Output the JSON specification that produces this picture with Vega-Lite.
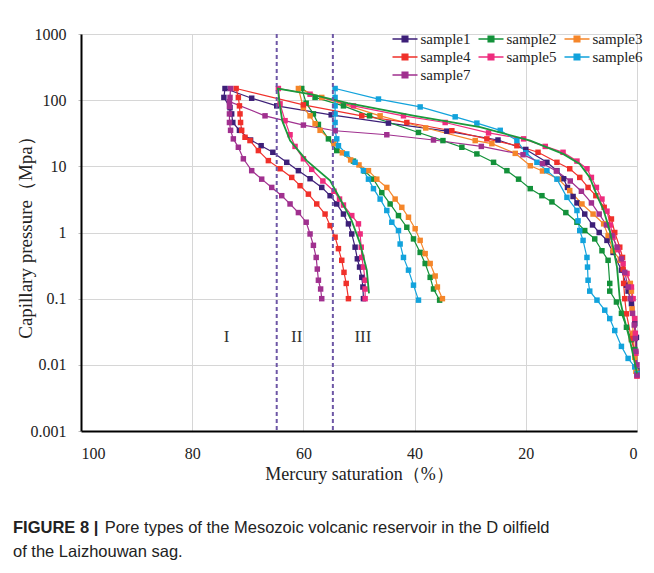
{
  "$schema": "https://vega.github.io/schema/vega-lite/v6.json",
  "width": 556,
  "height": 397,
  "autosize": "none",
  "padding": {"left": 81, "top": 34, "right": 17, "bottom": 142},
  "background": "white",
  "config": {"view": {"stroke": null}, "font": "Liberation Serif"},
  "title": {
    "text": "FIGURE 8 |",
    "subtitle": ["\u200b\u00a0\u00a0\u00a0\u00a0\u00a0\u00a0\u00a0\u00a0\u00a0\u00a0\u00a0\u00a0\u00a0\u00a0\u00a0\u00a0\u00a0\u00a0\u00a0\u00a0Pore types of the Mesozoic volcanic reservoir in the D oilfield", "of the Laizhouwan sag."],
    "orient": "bottom",
    "anchor": "start",
    "frame": "group",
    "font": "Liberation Sans",
    "fontSize": 16.5,
    "fontWeight": "bold",
    "color": "#222222",
    "subtitleFont": "Liberation Sans",
    "subtitleFontSize": 16.5,
    "subtitleColor": "#222222",
    "subtitleLineHeight": 24,
    "subtitlePadding": -16.5,
    "dx": -68,
    "offset": 37
  },
  "datasets": {
    "pts": [
      {"s":"sample1","i":1,"x":0,"y":0.0083},{"s":"sample1","i":2,"x":0.1,"y":0.026},{"s":"sample1","i":3,"x":0.4,"y":0.042},{"s":"sample1","i":4,"x":1,"y":0.084},{"s":"sample1","i":5,"x":1.6,"y":0.13},{"s":"sample1","i":6,"x":1.9,"y":0.16},{"s":"sample1","i":7,"x":2.8,"y":0.27},{"s":"sample1","i":8,"x":4.3,"y":0.5},{"s":"sample1","i":9,"x":5.4,"y":0.76},{"s":"sample1","i":10,"x":6.8,"y":1.0},{"s":"sample1","i":11,"x":8,"y":1.3},{"s":"sample1","i":12,"x":9.4,"y":1.9},{"s":"sample1","i":13,"x":10.8,"y":2.8},{"s":"sample1","i":14,"x":11.5,"y":3.5},{"s":"sample1","i":15,"x":12.5,"y":4.8},{"s":"sample1","i":16,"x":13.2,"y":6.5},{"s":"sample1","i":17,"x":14.4,"y":8.6},{"s":"sample1","i":18,"x":16.2,"y":11.5},{"s":"sample1","i":19,"x":20,"y":18},{"s":"sample1","i":20,"x":25,"y":25},{"s":"sample1","i":21,"x":34.2,"y":34},{"s":"sample1","i":22,"x":44.7,"y":45},{"s":"sample1","i":23,"x":55,"y":60},{"s":"sample1","i":24,"x":64.8,"y":82},{"s":"sample1","i":25,"x":69.3,"y":107},{"s":"sample1","i":26,"x":74.1,"y":150},{"s":"sample1","i":27,"x":74.3,"y":110},{"s":"sample1","i":28,"x":73.2,"y":77},{"s":"sample1","i":29,"x":72.9,"y":62},{"s":"sample1","i":30,"x":72.7,"y":46},{"s":"sample1","i":31,"x":71.5,"y":35},{"s":"sample1","i":32,"x":69.5,"y":25},{"s":"sample1","i":33,"x":67.6,"y":20.5},{"s":"sample1","i":34,"x":65.5,"y":16.3},{"s":"sample1","i":35,"x":63,"y":11.5},{"s":"sample1","i":36,"x":60.9,"y":8.6},{"s":"sample1","i":37,"x":58.8,"y":6.5},{"s":"sample1","i":38,"x":56.7,"y":4.8},{"s":"sample1","i":39,"x":55.2,"y":3.6},{"s":"sample1","i":40,"x":54,"y":2.7},{"s":"sample1","i":41,"x":52.8,"y":1.9},{"s":"sample1","i":42,"x":51.9,"y":1.35},{"s":"sample1","i":43,"x":51.3,"y":0.95},{"s":"sample1","i":44,"x":50.7,"y":0.6},{"s":"sample1","i":45,"x":50.3,"y":0.4},{"s":"sample1","i":46,"x":49.9,"y":0.3},{"s":"sample1","i":47,"x":49.5,"y":0.21},{"s":"sample1","i":48,"x":49.3,"y":0.15},{"s":"sample1","i":49,"x":49.2,"y":0.1},
      {"s":"sample2","i":1,"x":0,"y":0.0074},{"s":"sample2","i":2,"x":0.4,"y":0.017},{"s":"sample2","i":3,"x":1,"y":0.024},{"s":"sample2","i":4,"x":1.9,"y":0.037},{"s":"sample2","i":5,"x":2.8,"y":0.06},{"s":"sample2","i":6,"x":3.7,"y":0.089},{"s":"sample2","i":7,"x":4.9,"y":0.13},{"s":"sample2","i":8,"x":4.9,"y":0.17},{"s":"sample2","i":9,"x":5.2,"y":0.38},{"s":"sample2","i":10,"x":6.3,"y":0.53},{"s":"sample2","i":11,"x":7.6,"y":0.8},{"s":"sample2","i":12,"x":9.4,"y":1.07},{"s":"sample2","i":13,"x":10.8,"y":1.43},{"s":"sample2","i":14,"x":12.8,"y":2.0},{"s":"sample2","i":15,"x":15.3,"y":2.9},{"s":"sample2","i":16,"x":17.1,"y":3.6},{"s":"sample2","i":17,"x":19.2,"y":4.6},{"s":"sample2","i":18,"x":21.3,"y":6.4},{"s":"sample2","i":19,"x":23.4,"y":8.6},{"s":"sample2","i":20,"x":25.8,"y":11.5},{"s":"sample2","i":21,"x":28.8,"y":15.4},{"s":"sample2","i":22,"x":31.5,"y":19.4},{"s":"sample2","i":23,"x":34.9,"y":24.5},{"s":"sample2","i":24,"x":39.3,"y":32.5},{"s":"sample2","i":25,"x":48.1,"y":58},{"s":"sample2","i":26,"x":52.8,"y":82},{"s":"sample2","i":27,"x":57.9,"y":110},{"s":"sample2","i":28,"x":60.3,"y":150},{"s":"sample2","i":29,"x":59.5,"y":90},{"s":"sample2","i":30,"x":58.2,"y":62},{"s":"sample2","i":31,"x":57.3,"y":43},{"s":"sample2","i":32,"x":55.5,"y":26},{"s":"sample2","i":33,"x":54,"y":17.3},{"s":"sample2","i":34,"x":51,"y":12},{"s":"sample2","i":35,"x":49,"y":8.5},{"s":"sample2","i":36,"x":47.4,"y":6.4},{"s":"sample2","i":37,"x":45.9,"y":4},{"s":"sample2","i":38,"x":44.4,"y":2.7},{"s":"sample2","i":39,"x":42.9,"y":1.8},{"s":"sample2","i":40,"x":41.4,"y":1.2},{"s":"sample2","i":41,"x":40.2,"y":0.8},{"s":"sample2","i":42,"x":39,"y":0.5},{"s":"sample2","i":43,"x":38.1,"y":0.34},{"s":"sample2","i":44,"x":37.2,"y":0.21},{"s":"sample2","i":45,"x":36.6,"y":0.14},{"s":"sample2","i":46,"x":35.5,"y":0.095},
      {"s":"sample3","i":1,"x":0.2,"y":0.008},{"s":"sample3","i":2,"x":0.4,"y":0.013},{"s":"sample3","i":3,"x":0.7,"y":0.03},{"s":"sample3","i":4,"x":0.9,"y":0.07},{"s":"sample3","i":5,"x":1,"y":0.13},{"s":"sample3","i":6,"x":1.2,"y":0.17},{"s":"sample3","i":7,"x":1.9,"y":0.24},{"s":"sample3","i":8,"x":3,"y":0.38},{"s":"sample3","i":9,"x":4.3,"y":0.53},{"s":"sample3","i":10,"x":5.2,"y":0.9},{"s":"sample3","i":11,"x":6,"y":1.35},{"s":"sample3","i":12,"x":7.9,"y":1.9},{"s":"sample3","i":13,"x":9.9,"y":2.7},{"s":"sample3","i":14,"x":12.1,"y":4.3},{"s":"sample3","i":15,"x":14.1,"y":6.4},{"s":"sample3","i":16,"x":17,"y":8.5},{"s":"sample3","i":17,"x":19.2,"y":10.2},{"s":"sample3","i":18,"x":21.9,"y":15.7},{"s":"sample3","i":19,"x":26.1,"y":22},{"s":"sample3","i":20,"x":29.1,"y":24.5},{"s":"sample3","i":21,"x":38,"y":38},{"s":"sample3","i":22,"x":46.2,"y":58},{"s":"sample3","i":23,"x":56.7,"y":110},{"s":"sample3","i":24,"x":60.9,"y":150},{"s":"sample3","i":25,"x":60,"y":77},{"s":"sample3","i":26,"x":58.8,"y":58},{"s":"sample3","i":27,"x":57.9,"y":44},{"s":"sample3","i":28,"x":57,"y":35},{"s":"sample3","i":29,"x":54.5,"y":22},{"s":"sample3","i":30,"x":53,"y":16},{"s":"sample3","i":31,"x":51.5,"y":12.5},{"s":"sample3","i":32,"x":50,"y":10.5},{"s":"sample3","i":33,"x":48.3,"y":8.6},{"s":"sample3","i":34,"x":46.8,"y":6.4},{"s":"sample3","i":35,"x":45,"y":4.8},{"s":"sample3","i":36,"x":43.5,"y":3.2},{"s":"sample3","i":37,"x":42.3,"y":2.4},{"s":"sample3","i":38,"x":41.1,"y":1.7},{"s":"sample3","i":39,"x":39.9,"y":1.14},{"s":"sample3","i":40,"x":39,"y":0.76},{"s":"sample3","i":41,"x":38.1,"y":0.48},{"s":"sample3","i":42,"x":37.2,"y":0.34},{"s":"sample3","i":43,"x":36.3,"y":0.22},{"s":"sample3","i":44,"x":35.9,"y":0.15},{"s":"sample3","i":45,"x":35,"y":0.1},
      {"s":"sample4","i":1,"x":0,"y":0.0068},{"s":"sample4","i":2,"x":0.4,"y":0.015},{"s":"sample4","i":3,"x":1,"y":0.025},{"s":"sample4","i":4,"x":1.9,"y":0.059},{"s":"sample4","i":5,"x":2.2,"y":0.1},{"s":"sample4","i":6,"x":2.4,"y":0.17},{"s":"sample4","i":7,"x":2.5,"y":0.28},{"s":"sample4","i":8,"x":2.6,"y":0.42},{"s":"sample4","i":9,"x":3.1,"y":0.6},{"s":"sample4","i":10,"x":4,"y":1.0},{"s":"sample4","i":11,"x":4.6,"y":1.6},{"s":"sample4","i":12,"x":5.9,"y":2.4},{"s":"sample4","i":13,"x":7.4,"y":3.6},{"s":"sample4","i":14,"x":8.8,"y":4.8},{"s":"sample4","i":15,"x":10.3,"y":6.8},{"s":"sample4","i":16,"x":12.1,"y":9.2},{"s":"sample4","i":17,"x":14.4,"y":11.5},{"s":"sample4","i":18,"x":17.8,"y":16.3},{"s":"sample4","i":19,"x":21.6,"y":20.5},{"s":"sample4","i":20,"x":27,"y":26},{"s":"sample4","i":21,"x":33.3,"y":34.5},{"s":"sample4","i":22,"x":41.4,"y":46},{"s":"sample4","i":23,"x":49.5,"y":58},{"s":"sample4","i":24,"x":60,"y":85},{"s":"sample4","i":25,"x":72.1,"y":150},{"s":"sample4","i":26,"x":71.7,"y":110},{"s":"sample4","i":27,"x":71.5,"y":82},{"s":"sample4","i":28,"x":71.4,"y":62},{"s":"sample4","i":29,"x":71.3,"y":46},{"s":"sample4","i":30,"x":71.1,"y":35},{"s":"sample4","i":31,"x":70.5,"y":27.5},{"s":"sample4","i":32,"x":69.6,"y":24.5},{"s":"sample4","i":33,"x":68.1,"y":17.3},{"s":"sample4","i":34,"x":66.3,"y":12.2},{"s":"sample4","i":35,"x":64.2,"y":9.2},{"s":"sample4","i":36,"x":62.1,"y":6.8},{"s":"sample4","i":37,"x":60.6,"y":5.1},{"s":"sample4","i":38,"x":59.1,"y":3.8},{"s":"sample4","i":39,"x":57.6,"y":2.7},{"s":"sample4","i":40,"x":56.1,"y":1.9},{"s":"sample4","i":41,"x":55.2,"y":1.27},{"s":"sample4","i":42,"x":54.3,"y":0.85},{"s":"sample4","i":43,"x":53.7,"y":0.57},{"s":"sample4","i":44,"x":53.1,"y":0.38},{"s":"sample4","i":45,"x":52.7,"y":0.25},{"s":"sample4","i":46,"x":52.3,"y":0.17},{"s":"sample4","i":47,"x":51.9,"y":0.1},
      {"s":"sample5","i":1,"x":0,"y":0.0068},{"s":"sample5","i":2,"x":0.2,"y":0.015},{"s":"sample5","i":3,"x":0.3,"y":0.03},{"s":"sample5","i":4,"x":0.4,"y":0.05},{"s":"sample5","i":5,"x":0.7,"y":0.1},{"s":"sample5","i":6,"x":1,"y":0.15},{"s":"sample5","i":7,"x":1.8,"y":0.24},{"s":"sample5","i":8,"x":2.5,"y":0.34},{"s":"sample5","i":9,"x":3.4,"y":0.55},{"s":"sample5","i":10,"x":4.3,"y":0.85},{"s":"sample5","i":11,"x":4.8,"y":1.3},{"s":"sample5","i":12,"x":5.4,"y":2.1},{"s":"sample5","i":13,"x":6.3,"y":3.2},{"s":"sample5","i":14,"x":7.3,"y":4.8},{"s":"sample5","i":15,"x":8.2,"y":6.8},{"s":"sample5","i":16,"x":9,"y":9.2},{"s":"sample5","i":17,"x":10.8,"y":12},{"s":"sample5","i":18,"x":13.3,"y":16.3},{"s":"sample5","i":19,"x":16.5,"y":20},{"s":"sample5","i":20,"x":20.4,"y":26},{"s":"sample5","i":21,"x":26.7,"y":32},{"s":"sample5","i":22,"x":34.5,"y":46},{"s":"sample5","i":23,"x":42,"y":58},{"s":"sample5","i":24,"x":51,"y":82},{"s":"sample5","i":25,"x":58.8,"y":123},{"s":"sample5","i":26,"x":64.5,"y":150},{"s":"sample5","i":27,"x":64.2,"y":88},{"s":"sample5","i":28,"x":63.3,"y":49},{"s":"sample5","i":29,"x":62.4,"y":30},{"s":"sample5","i":30,"x":61.5,"y":20},{"s":"sample5","i":31,"x":60,"y":13},{"s":"sample5","i":32,"x":58.5,"y":9},{"s":"sample5","i":33,"x":56.5,"y":6},{"s":"sample5","i":34,"x":54.5,"y":4.2},{"s":"sample5","i":35,"x":53.5,"y":3.2},{"s":"sample5","i":36,"x":52.8,"y":2.6},{"s":"sample5","i":37,"x":51.3,"y":1.8},{"s":"sample5","i":38,"x":50.1,"y":1.35},{"s":"sample5","i":39,"x":49.8,"y":0.95},{"s":"sample5","i":40,"x":49.6,"y":0.6},{"s":"sample5","i":41,"x":49.5,"y":0.42},{"s":"sample5","i":42,"x":49.2,"y":0.3},{"s":"sample5","i":43,"x":48.9,"y":0.19},{"s":"sample5","i":44,"x":48.9,"y":0.14},{"s":"sample5","i":45,"x":48.9,"y":0.1},
      {"s":"sample6","i":1,"x":0,"y":0.0074},{"s":"sample6","i":2,"x":0.4,"y":0.0093},{"s":"sample6","i":3,"x":1.6,"y":0.0125},{"s":"sample6","i":4,"x":2.8,"y":0.019},{"s":"sample6","i":5,"x":4,"y":0.033},{"s":"sample6","i":6,"x":4.9,"y":0.05},{"s":"sample6","i":7,"x":5.8,"y":0.067},{"s":"sample6","i":8,"x":7.2,"y":0.095},{"s":"sample6","i":9,"x":8.5,"y":0.13},{"s":"sample6","i":10,"x":8.8,"y":0.19},{"s":"sample6","i":11,"x":8.9,"y":0.3},{"s":"sample6","i":12,"x":9,"y":0.42},{"s":"sample6","i":13,"x":9.7,"y":0.76},{"s":"sample6","i":14,"x":10.3,"y":1.07},{"s":"sample6","i":15,"x":10.6,"y":1.5},{"s":"sample6","i":16,"x":10.8,"y":2.15},{"s":"sample6","i":17,"x":12.6,"y":3.4},{"s":"sample6","i":18,"x":14.4,"y":6.4},{"s":"sample6","i":19,"x":16.2,"y":8.6},{"s":"sample6","i":20,"x":18,"y":11.5},{"s":"sample6","i":21,"x":20,"y":16},{"s":"sample6","i":22,"x":21.6,"y":24.5},{"s":"sample6","i":23,"x":24.6,"y":35},{"s":"sample6","i":24,"x":28.8,"y":45},{"s":"sample6","i":25,"x":32.7,"y":56},{"s":"sample6","i":26,"x":39,"y":79},{"s":"sample6","i":27,"x":46.5,"y":104},{"s":"sample6","i":28,"x":54.3,"y":150},{"s":"sample6","i":29,"x":54.3,"y":110},{"s":"sample6","i":30,"x":54.3,"y":82},{"s":"sample6","i":31,"x":54.3,"y":62},{"s":"sample6","i":32,"x":54.3,"y":46},{"s":"sample6","i":33,"x":54.3,"y":35},{"s":"sample6","i":34,"x":54,"y":26},{"s":"sample6","i":35,"x":53.7,"y":20.5},{"s":"sample6","i":36,"x":52.2,"y":15.4},{"s":"sample6","i":37,"x":50.7,"y":11.5},{"s":"sample6","i":38,"x":49.2,"y":8.6},{"s":"sample6","i":39,"x":48.3,"y":6.4},{"s":"sample6","i":40,"x":47.4,"y":4.6},{"s":"sample6","i":41,"x":46.2,"y":3.2},{"s":"sample6","i":42,"x":45,"y":2.15},{"s":"sample6","i":43,"x":44.1,"y":1.43},{"s":"sample6","i":44,"x":42.9,"y":1.07},{"s":"sample6","i":45,"x":42.6,"y":0.67},{"s":"sample6","i":46,"x":42,"y":0.42},{"s":"sample6","i":47,"x":41.1,"y":0.27},{"s":"sample6","i":48,"x":40.2,"y":0.16},{"s":"sample6","i":49,"x":39.3,"y":0.095},
      {"s":"sample7","i":1,"x":0,"y":0.007},{"s":"sample7","i":2,"x":0,"y":0.01},{"s":"sample7","i":3,"x":0.2,"y":0.016},{"s":"sample7","i":4,"x":0.3,"y":0.025},{"s":"sample7","i":5,"x":0.5,"y":0.04},{"s":"sample7","i":6,"x":0.8,"y":0.06},{"s":"sample7","i":7,"x":1.2,"y":0.1},{"s":"sample7","i":8,"x":1.6,"y":0.15},{"s":"sample7","i":9,"x":2.2,"y":0.25},{"s":"sample7","i":10,"x":2.8,"y":0.4},{"s":"sample7","i":11,"x":3.6,"y":0.6},{"s":"sample7","i":12,"x":4.5,"y":0.9},{"s":"sample7","i":13,"x":5.5,"y":1.3},{"s":"sample7","i":14,"x":6.8,"y":1.9},{"s":"sample7","i":15,"x":8.2,"y":2.8},{"s":"sample7","i":16,"x":10,"y":4.2},{"s":"sample7","i":17,"x":12,"y":6},{"s":"sample7","i":18,"x":14.5,"y":8.5},{"s":"sample7","i":19,"x":17,"y":11},{"s":"sample7","i":20,"x":20.5,"y":15},{"s":"sample7","i":21,"x":28,"y":20},{"s":"sample7","i":22,"x":36.6,"y":25},{"s":"sample7","i":23,"x":45,"y":30},{"s":"sample7","i":24,"x":54.3,"y":34.5},{"s":"sample7","i":25,"x":60,"y":42},{"s":"sample7","i":26,"x":66.9,"y":58},{"s":"sample7","i":27,"x":73.3,"y":95},{"s":"sample7","i":28,"x":73.1,"y":150},{"s":"sample7","i":29,"x":73.2,"y":110},{"s":"sample7","i":30,"x":73.3,"y":80},{"s":"sample7","i":31,"x":73.3,"y":62},{"s":"sample7","i":32,"x":73.3,"y":46},{"s":"sample7","i":33,"x":73.1,"y":35},{"s":"sample7","i":34,"x":72.6,"y":26},{"s":"sample7","i":35,"x":71.7,"y":19.4},{"s":"sample7","i":36,"x":70.8,"y":13},{"s":"sample7","i":37,"x":69.3,"y":8.6},{"s":"sample7","i":38,"x":67.5,"y":6.4},{"s":"sample7","i":39,"x":65.7,"y":4.8},{"s":"sample7","i":40,"x":63.9,"y":3.6},{"s":"sample7","i":41,"x":62.4,"y":2.7},{"s":"sample7","i":42,"x":60.9,"y":2.0},{"s":"sample7","i":43,"x":59.5,"y":1.43},{"s":"sample7","i":44,"x":58.8,"y":0.95},{"s":"sample7","i":45,"x":58.2,"y":0.64},{"s":"sample7","i":46,"x":57.7,"y":0.42},{"s":"sample7","i":47,"x":57.5,"y":0.28},{"s":"sample7","i":48,"x":57.3,"y":0.19},{"s":"sample7","i":49,"x":56.9,"y":0.14},{"s":"sample7","i":50,"x":56.7,"y":0.1}
    ],
    "fit": [
      {"i":1,"x":0,"y":0.0074},{"i":2,"x":1.3,"y":0.024},{"i":3,"x":2.3,"y":0.05},{"i":4,"x":3.1,"y":0.1},{"i":5,"x":3.6,"y":0.3},{"i":6,"x":4.3,"y":0.6},{"i":7,"x":4.9,"y":1.07},{"i":8,"x":6,"y":2.15},{"i":9,"x":7.3,"y":3.8},{"i":10,"x":8.5,"y":6.8},{"i":11,"x":10.3,"y":10.9},{"i":12,"x":13.3,"y":15.4},{"i":13,"x":19.2,"y":24.5},{"i":14,"x":28.2,"y":39},{"i":15,"x":40,"y":58},{"i":16,"x":52,"y":90},{"i":17,"x":58.8,"y":123},{"i":18,"x":64.6,"y":150},{"i":19,"x":64.3,"y":90},{"i":20,"x":63.8,"y":48.6},{"i":21,"x":62.4,"y":24.5},{"i":22,"x":59.4,"y":12.2},{"i":23,"x":55.2,"y":6.1},{"i":24,"x":52.9,"y":2.7},{"i":25,"x":51.3,"y":1.5},{"i":26,"x":49.8,"y":0.68},{"i":27,"x":48.6,"y":0.27},{"i":28,"x":48.2,"y":0.12}
    ],
    "bounds": [{"x": 64.8}, {"x": 54.7}],
    "zones": [{"t": "I", "x": 73.8, "y": 0.026}, {"t": "II", "x": 61.2, "y": 0.026}, {"t": "III", "x": 49.3, "y": 0.026}]
  },
  "layer": [
    {
      "data": {"name": "pts"},
      "mark": {"type": "line", "strokeWidth": 1.2},
      "encoding": {
        "x": {
          "field": "x", "type": "quantitative",
          "scale": {"domain": [0, 100], "reverse": true, "nice": false, "zero": false},
          "axis": {
            "title": "Mercury saturation（%）",
            "values": [0, 20, 40, 60, 80, 100],
            "grid": true, "gridColor": "#d6d6d6", "gridWidth": 1,
            "domainColor": "#000000", "domainWidth": 2,
            "ticks": false, "labelPadding": 14,
            "labelFont": "Liberation Serif", "labelFontSize": 16, "labelColor": "#222222",
            "titleFont": "Liberation Serif", "titleFontSize": 18, "titleFontWeight": "normal", "titleColor": "#222222",
            "titlePadding": 4
          }
        },
        "y": {
          "field": "y", "type": "quantitative",
          "scale": {"type": "log", "domain": [0.001, 1000], "nice": false},
          "axis": {
            "title": "Capillary pressure（Mpa）",
            "values": [0.001, 0.01, 0.1, 1, 10, 100, 1000],
            "format": "~g",
            "grid": true, "gridColor": "#d6d6d6", "gridWidth": 1,
            "domainColor": "#000000", "domainWidth": 2,
            "ticks": true, "tickSize": 3, "tickColor": "#bbbbbb",
            "labelPadding": 12,
            "labelFont": "Liberation Serif", "labelFontSize": 16, "labelColor": "#222222",
            "titleFont": "Liberation Serif", "titleFontSize": 19, "titleFontWeight": "normal", "titleColor": "#222222",
            "titleX": -46
          }
        },
        "color": {
          "field": "s", "type": "nominal",
          "scale": {
            "domain": ["sample1", "sample4", "sample6", "sample2", "sample5", "sample7", "sample3"],
            "range": ["#3d1f78", "#f0302a", "#12a3dc", "#13913a", "#ee2c7e", "#a0308f", "#f5862a"]
          },
          "legend": {
            "title": null,
            "orient": "none",
            "legendX": 314,
            "legendY": -5,
            "columns": 3,
            "columnPadding": 4,
            "rowPadding": 0,
            "symbolType": "M-1.39,0H1.39M-0.32,-0.32H0.32V0.32H-0.32Z",
            "symbolSize": 324,
            "symbolStrokeWidth": 1.3,
            "labelOffset": 5.5,
            "labelFont": "Liberation Serif",
            "labelFontSize": 15,
            "labelColor": "#222222"
          }
        },
        "order": {"field": "i", "type": "quantitative"}
      }
    },
    {
      "data": {"name": "pts"},
      "mark": {"type": "point", "shape": "square", "filled": true, "size": 30, "opacity": 1},
      "encoding": {
        "x": {"field": "x", "type": "quantitative"},
        "y": {"field": "y", "type": "quantitative"},
        "color": {"field": "s", "type": "nominal", "legend": null}
      }
    },
    {
      "data": {"name": "fit"},
      "mark": {"type": "line", "color": "#1a9a3c", "strokeWidth": 1.8},
      "encoding": {
        "x": {"field": "x", "type": "quantitative"},
        "y": {"field": "y", "type": "quantitative"},
        "order": {"field": "i", "type": "quantitative"}
      }
    },
    {
      "data": {"name": "bounds"},
      "mark": {"type": "rule", "color": "#6e57a6", "strokeWidth": 2, "strokeDash": [4, 3]},
      "encoding": {
        "x": {"field": "x", "type": "quantitative"}
      }
    },
    {
      "data": {"name": "zones"},
      "mark": {"type": "text", "font": "Liberation Serif", "fontSize": 17, "color": "#333333"},
      "encoding": {
        "x": {"field": "x", "type": "quantitative"},
        "y": {"field": "y", "type": "quantitative"},
        "text": {"field": "t"}
      }
    }
  ]
}
